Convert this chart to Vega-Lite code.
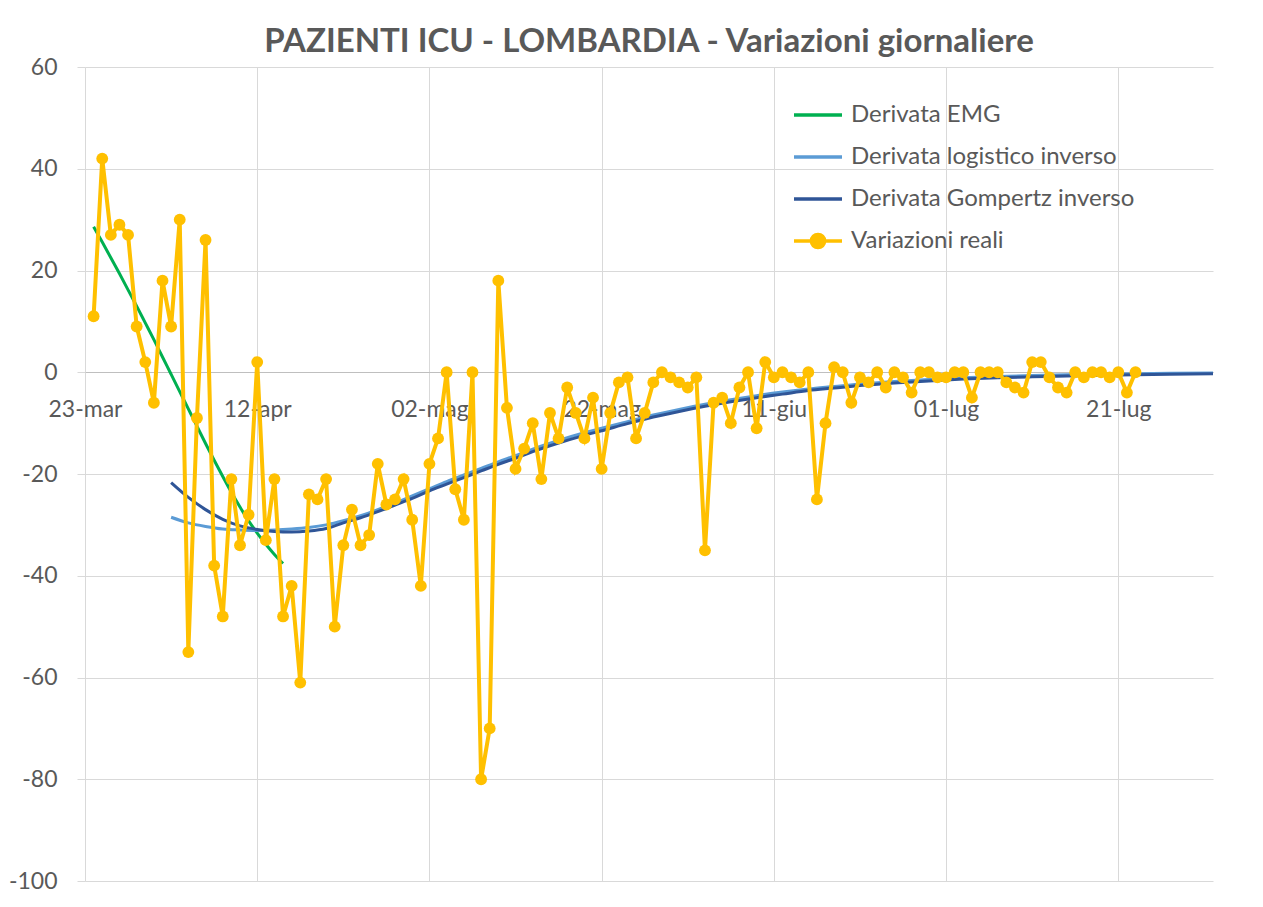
{
  "$schema": "https://vega.github.io/schema/vega-lite/v6.json",
  "autosize": {"type": "none"},
  "padding": {"left": 85, "top": 67, "right": 50, "bottom": 26},
  "width": 1128,
  "height": 814,
  "background": "white",
  "config": {
    "view": {"stroke": null},
    "font": "Lato",
    "axis": {"labelFont": "Lato", "labelFontSize": 23, "labelColor": "#595959", "gridColor": "#d9d9d9", "gridWidth": 1}
  },
  "title": {
    "text": "PAZIENTI ICU - LOMBARDIA - Variazioni giornaliere",
    "font": "Lato",
    "fontSize": 33,
    "fontWeight": "bold",
    "color": "#595959",
    "anchor": "middle",
    "frame": "group",
    "offset": 0,
    "dy": 3
  },
  "datasets": {
    "curves": [
      {"date": "2020-03-24", "series": "Derivata EMG", "value": 28.6},
      {"date": "2020-03-25", "series": "Derivata EMG", "value": 25.6},
      {"date": "2020-03-26", "series": "Derivata EMG", "value": 22.5},
      {"date": "2020-03-27", "series": "Derivata EMG", "value": 19.4},
      {"date": "2020-03-28", "series": "Derivata EMG", "value": 16.2},
      {"date": "2020-03-29", "series": "Derivata EMG", "value": 13.0},
      {"date": "2020-03-30", "series": "Derivata EMG", "value": 9.7},
      {"date": "2020-03-31", "series": "Derivata EMG", "value": 6.4},
      {"date": "2020-04-01", "series": "Derivata EMG", "value": 3.0},
      {"date": "2020-04-02", "series": "Derivata EMG", "value": -0.4},
      {"date": "2020-04-03", "series": "Derivata EMG", "value": -3.8},
      {"date": "2020-04-04", "series": "Derivata EMG", "value": -7.2},
      {"date": "2020-04-05", "series": "Derivata EMG", "value": -10.6},
      {"date": "2020-04-06", "series": "Derivata EMG", "value": -14.0},
      {"date": "2020-04-07", "series": "Derivata EMG", "value": -17.3},
      {"date": "2020-04-08", "series": "Derivata EMG", "value": -20.5},
      {"date": "2020-04-09", "series": "Derivata EMG", "value": -23.6},
      {"date": "2020-04-10", "series": "Derivata EMG", "value": -26.5},
      {"date": "2020-04-11", "series": "Derivata EMG", "value": -29.2},
      {"date": "2020-04-12", "series": "Derivata EMG", "value": -31.6},
      {"date": "2020-04-13", "series": "Derivata EMG", "value": -33.8},
      {"date": "2020-04-14", "series": "Derivata EMG", "value": -35.8},
      {"date": "2020-04-15", "series": "Derivata EMG", "value": -37.6},

      {"date": "2020-04-02", "series": "Derivata logistico inverso", "value": -28.5},
      {"date": "2020-04-04", "series": "Derivata logistico inverso", "value": -29.6},
      {"date": "2020-04-06", "series": "Derivata logistico inverso", "value": -30.3},
      {"date": "2020-04-08", "series": "Derivata logistico inverso", "value": -30.8},
      {"date": "2020-04-10", "series": "Derivata logistico inverso", "value": -31.0},
      {"date": "2020-04-12", "series": "Derivata logistico inverso", "value": -31.1},
      {"date": "2020-04-14", "series": "Derivata logistico inverso", "value": -31.0},
      {"date": "2020-04-16", "series": "Derivata logistico inverso", "value": -30.8},
      {"date": "2020-04-18", "series": "Derivata logistico inverso", "value": -30.5},
      {"date": "2020-04-20", "series": "Derivata logistico inverso", "value": -30.0},
      {"date": "2020-04-22", "series": "Derivata logistico inverso", "value": -29.2},
      {"date": "2020-04-24", "series": "Derivata logistico inverso", "value": -28.2},
      {"date": "2020-04-26", "series": "Derivata logistico inverso", "value": -27.0},
      {"date": "2020-04-28", "series": "Derivata logistico inverso", "value": -25.7},
      {"date": "2020-04-30", "series": "Derivata logistico inverso", "value": -24.3},
      {"date": "2020-05-02", "series": "Derivata logistico inverso", "value": -22.9},
      {"date": "2020-05-04", "series": "Derivata logistico inverso", "value": -21.5},
      {"date": "2020-05-06", "series": "Derivata logistico inverso", "value": -20.2},
      {"date": "2020-05-08", "series": "Derivata logistico inverso", "value": -18.9},
      {"date": "2020-05-10", "series": "Derivata logistico inverso", "value": -17.6},
      {"date": "2020-05-12", "series": "Derivata logistico inverso", "value": -16.4},
      {"date": "2020-05-14", "series": "Derivata logistico inverso", "value": -15.1},
      {"date": "2020-05-17", "series": "Derivata logistico inverso", "value": -13.4},
      {"date": "2020-05-20", "series": "Derivata logistico inverso", "value": -11.9},
      {"date": "2020-05-22", "series": "Derivata logistico inverso", "value": -11.0},
      {"date": "2020-05-25", "series": "Derivata logistico inverso", "value": -9.7},
      {"date": "2020-05-28", "series": "Derivata logistico inverso", "value": -8.4},
      {"date": "2020-05-31", "series": "Derivata logistico inverso", "value": -7.3},
      {"date": "2020-06-03", "series": "Derivata logistico inverso", "value": -6.3},
      {"date": "2020-06-06", "series": "Derivata logistico inverso", "value": -5.4},
      {"date": "2020-06-09", "series": "Derivata logistico inverso", "value": -4.6},
      {"date": "2020-06-12", "series": "Derivata logistico inverso", "value": -3.9},
      {"date": "2020-06-15", "series": "Derivata logistico inverso", "value": -3.3},
      {"date": "2020-06-18", "series": "Derivata logistico inverso", "value": -2.8},
      {"date": "2020-06-21", "series": "Derivata logistico inverso", "value": -2.3},
      {"date": "2020-06-25", "series": "Derivata logistico inverso", "value": -1.8},
      {"date": "2020-06-29", "series": "Derivata logistico inverso", "value": -1.4},
      {"date": "2020-07-03", "series": "Derivata logistico inverso", "value": -1.1},
      {"date": "2020-07-07", "series": "Derivata logistico inverso", "value": -0.85},
      {"date": "2020-07-11", "series": "Derivata logistico inverso", "value": -0.65},
      {"date": "2020-07-15", "series": "Derivata logistico inverso", "value": -0.5},
      {"date": "2020-07-19", "series": "Derivata logistico inverso", "value": -0.38},
      {"date": "2020-07-23", "series": "Derivata logistico inverso", "value": -0.29},
      {"date": "2020-07-27", "series": "Derivata logistico inverso", "value": -0.22},
      {"date": "2020-08-01", "series": "Derivata logistico inverso", "value": -0.16},

      {"date": "2020-04-02", "series": "Derivata Gompertz inverso", "value": -21.7},
      {"date": "2020-04-04", "series": "Derivata Gompertz inverso", "value": -24.6},
      {"date": "2020-04-06", "series": "Derivata Gompertz inverso", "value": -27.0},
      {"date": "2020-04-08", "series": "Derivata Gompertz inverso", "value": -28.9},
      {"date": "2020-04-10", "series": "Derivata Gompertz inverso", "value": -30.2},
      {"date": "2020-04-12", "series": "Derivata Gompertz inverso", "value": -30.9},
      {"date": "2020-04-14", "series": "Derivata Gompertz inverso", "value": -31.3},
      {"date": "2020-04-16", "series": "Derivata Gompertz inverso", "value": -31.4},
      {"date": "2020-04-18", "series": "Derivata Gompertz inverso", "value": -31.2},
      {"date": "2020-04-20", "series": "Derivata Gompertz inverso", "value": -30.7},
      {"date": "2020-04-22", "series": "Derivata Gompertz inverso", "value": -29.6},
      {"date": "2020-04-24", "series": "Derivata Gompertz inverso", "value": -28.6},
      {"date": "2020-04-26", "series": "Derivata Gompertz inverso", "value": -27.4},
      {"date": "2020-04-28", "series": "Derivata Gompertz inverso", "value": -26.1},
      {"date": "2020-04-30", "series": "Derivata Gompertz inverso", "value": -24.8},
      {"date": "2020-05-02", "series": "Derivata Gompertz inverso", "value": -23.3},
      {"date": "2020-05-04", "series": "Derivata Gompertz inverso", "value": -22.0},
      {"date": "2020-05-06", "series": "Derivata Gompertz inverso", "value": -20.7},
      {"date": "2020-05-08", "series": "Derivata Gompertz inverso", "value": -19.4},
      {"date": "2020-05-10", "series": "Derivata Gompertz inverso", "value": -18.1},
      {"date": "2020-05-12", "series": "Derivata Gompertz inverso", "value": -16.9},
      {"date": "2020-05-14", "series": "Derivata Gompertz inverso", "value": -15.6},
      {"date": "2020-05-17", "series": "Derivata Gompertz inverso", "value": -13.9},
      {"date": "2020-05-20", "series": "Derivata Gompertz inverso", "value": -12.4},
      {"date": "2020-05-22", "series": "Derivata Gompertz inverso", "value": -11.5},
      {"date": "2020-05-25", "series": "Derivata Gompertz inverso", "value": -10.1},
      {"date": "2020-05-28", "series": "Derivata Gompertz inverso", "value": -8.8},
      {"date": "2020-05-31", "series": "Derivata Gompertz inverso", "value": -7.7},
      {"date": "2020-06-03", "series": "Derivata Gompertz inverso", "value": -6.7},
      {"date": "2020-06-06", "series": "Derivata Gompertz inverso", "value": -5.8},
      {"date": "2020-06-09", "series": "Derivata Gompertz inverso", "value": -5.0},
      {"date": "2020-06-12", "series": "Derivata Gompertz inverso", "value": -4.3},
      {"date": "2020-06-15", "series": "Derivata Gompertz inverso", "value": -3.6},
      {"date": "2020-06-18", "series": "Derivata Gompertz inverso", "value": -3.1},
      {"date": "2020-06-21", "series": "Derivata Gompertz inverso", "value": -2.6},
      {"date": "2020-06-25", "series": "Derivata Gompertz inverso", "value": -2.1},
      {"date": "2020-06-29", "series": "Derivata Gompertz inverso", "value": -1.7},
      {"date": "2020-07-03", "series": "Derivata Gompertz inverso", "value": -1.35},
      {"date": "2020-07-07", "series": "Derivata Gompertz inverso", "value": -1.1},
      {"date": "2020-07-11", "series": "Derivata Gompertz inverso", "value": -0.9},
      {"date": "2020-07-15", "series": "Derivata Gompertz inverso", "value": -0.72},
      {"date": "2020-07-19", "series": "Derivata Gompertz inverso", "value": -0.58},
      {"date": "2020-07-23", "series": "Derivata Gompertz inverso", "value": -0.47},
      {"date": "2020-07-27", "series": "Derivata Gompertz inverso", "value": -0.38},
      {"date": "2020-08-01", "series": "Derivata Gompertz inverso", "value": -0.3}
    ],
    "reali": [
      {"date": "2020-03-24", "value": 11}, {"date": "2020-03-25", "value": 42}, {"date": "2020-03-26", "value": 27},
      {"date": "2020-03-27", "value": 29}, {"date": "2020-03-28", "value": 27}, {"date": "2020-03-29", "value": 9},
      {"date": "2020-03-30", "value": 2}, {"date": "2020-03-31", "value": -6}, {"date": "2020-04-01", "value": 18},
      {"date": "2020-04-02", "value": 9}, {"date": "2020-04-03", "value": 30}, {"date": "2020-04-04", "value": -55},
      {"date": "2020-04-05", "value": -9}, {"date": "2020-04-06", "value": 26}, {"date": "2020-04-07", "value": -38},
      {"date": "2020-04-08", "value": -48}, {"date": "2020-04-09", "value": -21}, {"date": "2020-04-10", "value": -34},
      {"date": "2020-04-11", "value": -28}, {"date": "2020-04-12", "value": 2}, {"date": "2020-04-13", "value": -33},
      {"date": "2020-04-14", "value": -21}, {"date": "2020-04-15", "value": -48}, {"date": "2020-04-16", "value": -42},
      {"date": "2020-04-17", "value": -61}, {"date": "2020-04-18", "value": -24}, {"date": "2020-04-19", "value": -25},
      {"date": "2020-04-20", "value": -21}, {"date": "2020-04-21", "value": -50}, {"date": "2020-04-22", "value": -34},
      {"date": "2020-04-23", "value": -27}, {"date": "2020-04-24", "value": -34}, {"date": "2020-04-25", "value": -32},
      {"date": "2020-04-26", "value": -18}, {"date": "2020-04-27", "value": -26}, {"date": "2020-04-28", "value": -25},
      {"date": "2020-04-29", "value": -21}, {"date": "2020-04-30", "value": -29}, {"date": "2020-05-01", "value": -42},
      {"date": "2020-05-02", "value": -18}, {"date": "2020-05-03", "value": -13}, {"date": "2020-05-04", "value": 0},
      {"date": "2020-05-05", "value": -23}, {"date": "2020-05-06", "value": -29}, {"date": "2020-05-07", "value": 0},
      {"date": "2020-05-08", "value": -80}, {"date": "2020-05-09", "value": -70}, {"date": "2020-05-10", "value": 18},
      {"date": "2020-05-11", "value": -7}, {"date": "2020-05-12", "value": -19}, {"date": "2020-05-13", "value": -15},
      {"date": "2020-05-14", "value": -10}, {"date": "2020-05-15", "value": -21}, {"date": "2020-05-16", "value": -8},
      {"date": "2020-05-17", "value": -13}, {"date": "2020-05-18", "value": -3}, {"date": "2020-05-19", "value": -8},
      {"date": "2020-05-20", "value": -13}, {"date": "2020-05-21", "value": -5}, {"date": "2020-05-22", "value": -19},
      {"date": "2020-05-23", "value": -8}, {"date": "2020-05-24", "value": -2}, {"date": "2020-05-25", "value": -1},
      {"date": "2020-05-26", "value": -13}, {"date": "2020-05-27", "value": -8}, {"date": "2020-05-28", "value": -2},
      {"date": "2020-05-29", "value": 0}, {"date": "2020-05-30", "value": -1}, {"date": "2020-05-31", "value": -2},
      {"date": "2020-06-01", "value": -3}, {"date": "2020-06-02", "value": -1}, {"date": "2020-06-03", "value": -35},
      {"date": "2020-06-04", "value": -6}, {"date": "2020-06-05", "value": -5}, {"date": "2020-06-06", "value": -10},
      {"date": "2020-06-07", "value": -3}, {"date": "2020-06-08", "value": 0}, {"date": "2020-06-09", "value": -11},
      {"date": "2020-06-10", "value": 2}, {"date": "2020-06-11", "value": -1}, {"date": "2020-06-12", "value": 0},
      {"date": "2020-06-13", "value": -1}, {"date": "2020-06-14", "value": -2}, {"date": "2020-06-15", "value": 0},
      {"date": "2020-06-16", "value": -25}, {"date": "2020-06-17", "value": -10}, {"date": "2020-06-18", "value": 1},
      {"date": "2020-06-19", "value": 0}, {"date": "2020-06-20", "value": -6}, {"date": "2020-06-21", "value": -1},
      {"date": "2020-06-22", "value": -2}, {"date": "2020-06-23", "value": 0}, {"date": "2020-06-24", "value": -3},
      {"date": "2020-06-25", "value": 0}, {"date": "2020-06-26", "value": -1}, {"date": "2020-06-27", "value": -4},
      {"date": "2020-06-28", "value": 0}, {"date": "2020-06-29", "value": 0}, {"date": "2020-06-30", "value": -1},
      {"date": "2020-07-01", "value": -1}, {"date": "2020-07-02", "value": 0}, {"date": "2020-07-03", "value": 0},
      {"date": "2020-07-04", "value": -5}, {"date": "2020-07-05", "value": 0}, {"date": "2020-07-06", "value": 0},
      {"date": "2020-07-07", "value": 0}, {"date": "2020-07-08", "value": -2}, {"date": "2020-07-09", "value": -3},
      {"date": "2020-07-10", "value": -4}, {"date": "2020-07-11", "value": 2}, {"date": "2020-07-12", "value": 2},
      {"date": "2020-07-13", "value": -1}, {"date": "2020-07-14", "value": -3}, {"date": "2020-07-15", "value": -4},
      {"date": "2020-07-16", "value": 0}, {"date": "2020-07-17", "value": -1}, {"date": "2020-07-18", "value": 0},
      {"date": "2020-07-19", "value": 0}, {"date": "2020-07-20", "value": -1}, {"date": "2020-07-21", "value": 0},
      {"date": "2020-07-22", "value": -4}, {"date": "2020-07-23", "value": 0}
    ]
  },
  "layer": [
    {
      "data": {"name": "curves"},
      "transform": [{"filter": "datum.series === 'Derivata EMG'"}],
      "mark": {"type": "line", "strokeWidth": 3, "interpolate": "monotone"},
      "encoding": {
        "x": {
          "field": "date", "type": "temporal",
          "scale": {"type": "utc", "domain": [{"year": 2020, "month": 3, "date": 23, "utc": true}, {"year": 2020, "month": 8, "date": 1, "utc": true}]},
          "axis": {
            "orient": "top", "title": null, "labels": false, "ticks": false, "domain": false, "grid": true,
            "values": [
              {"year": 2020, "month": 3, "date": 23, "utc": true},
              {"year": 2020, "month": 4, "date": 12, "utc": true},
              {"year": 2020, "month": 5, "date": 2, "utc": true},
              {"year": 2020, "month": 5, "date": 22, "utc": true},
              {"year": 2020, "month": 6, "date": 11, "utc": true},
              {"year": 2020, "month": 7, "date": 1, "utc": true},
              {"year": 2020, "month": 7, "date": 21, "utc": true}
            ]
          }
        },
        "y": {
          "field": "value", "type": "quantitative",
          "scale": {"domain": [-100, 60], "nice": false, "zero": false},
          "axis": {
            "title": null, "values": [-100, -80, -60, -40, -20, 0, 20, 40, 60],
            "grid": true, "domain": false, "ticks": true, "tickSize": 8, "tickColor": "#d9d9d9",
            "labelPadding": 20, "labelExpr": "'' + datum.value"
          }
        },
        "color": {
          "field": "series", "type": "nominal",
          "scale": {
            "domain": ["Derivata EMG", "Derivata logistico inverso", "Derivata Gompertz inverso", "Variazioni reali"],
            "range": ["#00B050", "#5B9BD5", "#2F5597", "#FFC000"]
          },
          "legend": {
            "title": null, "orient": "none", "legendX": 719, "legendY": 34, "padding": 0,
            "labelFont": "Lato", "labelFontSize": 24, "labelColor": "#595959", "labelLimit": 500,
            "labelOffset": 19, "rowPadding": 16, "symbolSize": 576, "symbolStrokeWidth": 3,
            "encode": {
              "symbols": {
                "update": {
                  "shape": [
                    {"test": "datum.value === 'Variazioni reali'", "value": "M-2,0H2M0.55,0A0.55,0.55,0,1,1,-0.55,0A0.55,0.55,0,1,1,0.55,0Z"},
                    {"value": "M-2,0H2"}
                  ],
                  "fill": [
                    {"test": "datum.value === 'Variazioni reali'", "value": "#FFC000"},
                    {"value": "transparent"}
                  ],
                  "stroke": {"scale": "color", "field": "value"},
                  "strokeWidth": {"value": 3.5},
                  "opacity": {"value": 1}
                }
              }
            }
          }
        }
      }
    },
    {
      "data": {"name": "curves"},
      "transform": [{"filter": "datum.series === 'Derivata logistico inverso'"}],
      "mark": {"type": "line", "strokeWidth": 3, "interpolate": "monotone"},
      "encoding": {
        "x": {"field": "date", "type": "temporal", "axis": null},
        "y": {"field": "value", "type": "quantitative"},
        "color": {"field": "series", "type": "nominal"}
      }
    },
    {
      "data": {"name": "curves"},
      "transform": [{"filter": "datum.series === 'Derivata Gompertz inverso'"}],
      "mark": {"type": "line", "strokeWidth": 3, "interpolate": "monotone"},
      "encoding": {
        "x": {"field": "date", "type": "temporal", "axis": null},
        "y": {"field": "value", "type": "quantitative"},
        "color": {"field": "series", "type": "nominal"}
      }
    },
    {
      "data": {"name": "reali"},
      "mark": {"type": "line", "strokeWidth": 4, "point": {"filled": true, "size": 140, "opacity": 1}},
      "encoding": {
        "x": {
          "field": "date", "type": "temporal",
          "axis": {
            "orient": "bottom", "title": null, "grid": false, "ticks": false,
            "domain": true, "domainColor": "#bfbfbf", "domainWidth": 1,
            "offset": -509, "labelPadding": 26, "labelFlush": false, "labelOverlap": false,
            "values": [
              {"year": 2020, "month": 3, "date": 23, "utc": true},
              {"year": 2020, "month": 4, "date": 12, "utc": true},
              {"year": 2020, "month": 5, "date": 2, "utc": true},
              {"year": 2020, "month": 5, "date": 22, "utc": true},
              {"year": 2020, "month": 6, "date": 11, "utc": true},
              {"year": 2020, "month": 7, "date": 1, "utc": true},
              {"year": 2020, "month": 7, "date": 21, "utc": true}
            ],
            "labelExpr": "utcFormat(datum.value, '%d') + '-' + ['gen','feb','mar','apr','mag','giu','lug','ago','set','ott','nov','dic'][utcmonth(datum.value)]"
          }
        },
        "y": {"field": "value", "type": "quantitative"},
        "color": {"datum": "Variazioni reali", "type": "nominal"}
      }
    }
  ],
  "resolve": {"axis": {"x": "independent"}}
}
